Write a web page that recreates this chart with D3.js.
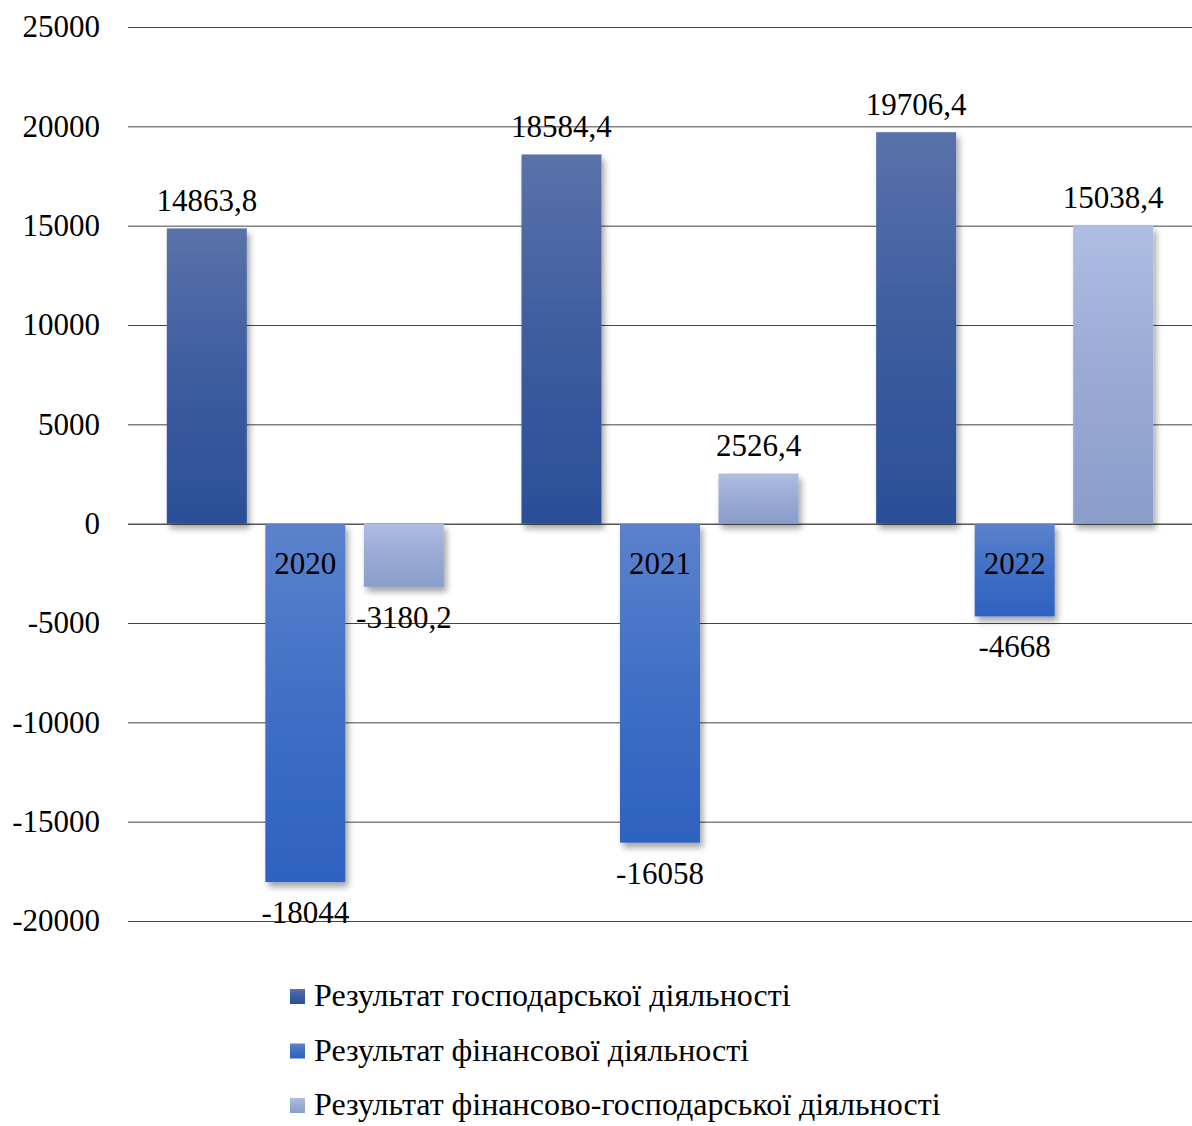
<!DOCTYPE html>
<html lang="uk">
<head>
  <meta charset="UTF-8">
  <title>Результати діяльності</title>
  <script src="https://cdn.jsdelivr.net/npm/d3@7/dist/d3.min.js"></script>
  <style>
  body{ margin:0; background:#fff; }
  svg text{ font-family:"Liberation Serif", "Times New Roman", "DejaVu Serif", serif; }
  .axis text{ font-size:31px; fill:#000; }
  .axis path{ display:none; }
  .cifras{ font-size:31px; fill:#000; }
  .leyenda{ font-size:32px; fill:#000; }
  </style>
</head>
<body>
<div id="grafico"></div>
<script>
var anos = ["2020", "2021", "2022"];
var series = ["Результат господарської діяльності", "Результат фінансової діяльності", "Результат фінансово-господарської діяльності"];
var valores = [
  [14863.8, 18584.4, 19706.4],
  [-18044, -16058, -4668],
  [-3180.2, 2526.4, 15038.4]
];
var etiquetas = [
  ["14863,8", "18584,4", "19706,4"],
  ["-18044", "-16058", "-4668"],
  ["-3180,2", "2526,4", "15038,4"]
];
var ticks = [-20000, -15000, -10000, -5000, 0, 5000, 10000, 15000, 20000, 25000];

var w = 1192, h = 1126;
var colores = [["#5a72aa", "#2a4f98"], ["#5b82cc", "#2e62c0"], ["#afbde2", "#8a9dcb"]];

var svg = d3.select("#grafico").append("svg")
  .attr("width", w).attr("height", h);

var defs = svg.append("defs");
colores.forEach(function(c, i){
  var g = defs.append("linearGradient").attr("id", "grad" + i)
    .attr("x1", 0).attr("y1", 0).attr("x2", 0).attr("y2", 1);
  g.append("stop").attr("offset", "0%").attr("stop-color", c[0]);
  g.append("stop").attr("offset", "50%").attr("stop-color", d3.interpolateRgb(c[0], c[1])(0.6));
  g.append("stop").attr("offset", "100%").attr("stop-color", c[1]);
});
defs.append("filter").attr("id", "sombra")
  .attr("x", "-20%").attr("y", "-20%").attr("width", "150%").attr("height", "150%")
  .append("feDropShadow").attr("dx", 3).attr("dy", 5).attr("stdDeviation", 3)
  .attr("flood-color", "#000").attr("flood-opacity", 0.35);

var x0 = 128, x1 = 1192;
var yScale = d3.scaleLinear().domain([-20000, 25000]).range([921, 27]);
var xScale = d3.scaleBand().domain(anos).range([x0, x1]).paddingInner(0).paddingOuter(0);
var xSerie = d3.scaleBand().domain(d3.range(series.length)).range([0, xScale.bandwidth()])
  .paddingInner(0.188).paddingOuter(0.394);

// eje Y con lineas de rejilla
var yAxis = d3.axisLeft(yScale).tickValues(ticks).tickSize(-(x1 - x0)).tickPadding(28)
  .tickFormat(function(d){ return String(d); });
var ejeY = svg.append("g").attr("class", "axis")
  .attr("transform", "translate(" + x0 + ",0)")
  .call(yAxis);
ejeY.attr("font-family", null).attr("font-size", null);
ejeY.selectAll(".tick line").attr("stroke", function(d){ return d === 0 ? "#000" : "#444"; });

// barras
series.forEach(function(s, i){
  var g = svg.append("g");
  g.selectAll("rect")
    .data(valores[i])
    .enter()
    .append("rect")
    .attr("x", function(d, j){ return xScale(anos[j]) + xSerie(i); })
    .attr("y", function(d){ return yScale(Math.max(0, d)); })
    .attr("width", xSerie.bandwidth())
    .attr("height", function(d){ return Math.abs(yScale(d) - yScale(0)); })
    .attr("fill", "url(#grad" + i + ")")
    .attr("filter", "url(#sombra)");
});

// etiquetas de los años
svg.selectAll(".ano")
  .data(anos)
  .enter()
  .append("text")
  .attr("class", "cifras")
  .attr("text-anchor", "middle")
  .attr("x", function(d){ return xScale(d) + xScale.bandwidth() / 2; })
  .attr("y", yScale(0) + 50)
  .text(function(d){ return d; });

// cifras
series.forEach(function(s, i){
  svg.append("g").selectAll("text")
    .data(valores[i])
    .enter()
    .append("text")
    .attr("class", "cifras")
    .attr("text-anchor", "middle")
    .attr("x", function(d, j){ return xScale(anos[j]) + xSerie(i) + xSerie.bandwidth() / 2; })
    .attr("y", function(d){ return d >= 0 ? yScale(d) - 17 : yScale(d) + 41; })
    .text(function(d, j){ return etiquetas[i][j]; });
});

// leyenda
var leyenda = svg.append("g").selectAll("g")
  .data(series)
  .enter()
  .append("g")
  .attr("transform", function(d, i){ return "translate(290," + (1006 + i * 54.5) + ")"; });
leyenda.append("rect")
  .attr("x", 0).attr("y", -17).attr("width", 15).attr("height", 15)
  .attr("fill", function(d, i){ return "url(#grad" + i + ")"; });
leyenda.append("text")
  .attr("class", "leyenda")
  .attr("x", 24).attr("y", 0)
  .text(function(d){ return d; });
</script>
</body>
</html>
